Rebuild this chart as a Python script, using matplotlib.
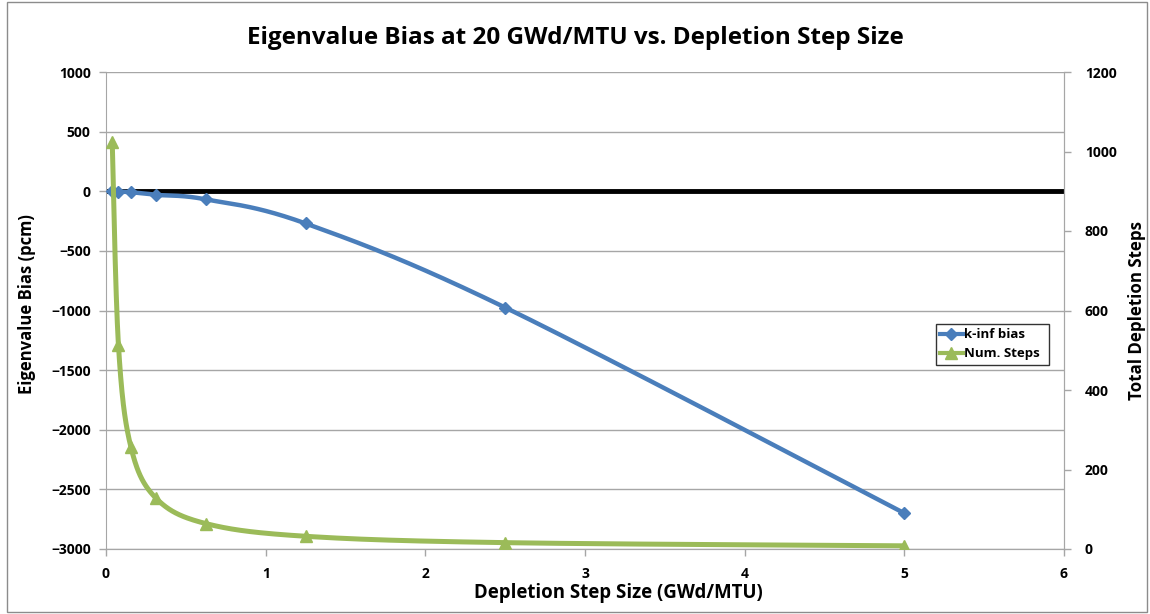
import numpy as np
import matplotlib
matplotlib.use("Agg")
import matplotlib.pyplot as plt
from matplotlib import font_manager
from matplotlib.patches import Rectangle

# depletion step size (GWd/MTU)
step_size = [0.0390625, 0.078125, 0.15625, 0.3125, 0.625, 1.25, 2.5, 5.0]
# k-inf bias (pcm)
kinf_bias = [0, -3, -8, -30, -68, -270, -975, -2700]
# total number of depletion steps
num_steps = [1024, 512, 256, 128, 64, 32, 16, 8]

BLUE = '#4a7ebb'
GREEN = '#9bbb59'
GRID = '#a6a6a6'


def fp(size):
    return font_manager.FontProperties(family=['Open Sans', 'DejaVu Sans'],
                                       weight='bold', size=size)


def smooth(ax, xs, ys, n=40):
    # excel-like smoothed line: bezier segments built in display space
    tr = ax.transData
    pts = tr.transform(np.column_stack([xs, ys]))
    out = [pts[0]]
    for i in range(len(pts) - 1):
        p0 = pts[i - 1] if i > 0 else pts[i]
        p1 = pts[i]
        p2 = pts[i + 1]
        p3 = pts[i + 2] if i + 2 < len(pts) else pts[i + 1]
        c1 = p1 + (p2 - p0) / 6.0
        c2 = p2 - (p3 - p1) / 6.0
        t = np.linspace(0, 1, n)[1:, None]
        seg = ((1 - t) ** 3) * p1 + 3 * ((1 - t) ** 2) * t * c1 \
            + 3 * (1 - t) * t ** 2 * c2 + t ** 3 * p2
        out.extend(seg)
    out = tr.inverted().transform(np.array(out))
    return out[:, 0], out[:, 1]


fig = plt.figure(figsize=(11.5, 6.14), dpi=100)
ax = fig.add_axes([106 / 1150, 1 - 549 / 614, (1064 - 106) / 1150, (549 - 72) / 614])
ax2 = ax.twinx()

ax.set_xlim(0, 6)
ax.set_ylim(-3000, 1000)
ax2.set_ylim(0, 1200)

ax.set_yticks(np.arange(-3000, 1001, 500))
ax.set_xticks(range(7))
ax2.set_yticks(range(0, 1201, 200))
ax.grid(axis='y', color=GRID, lw=1)
ax.set_axisbelow(True)

for a in (ax, ax2):
    for s in a.spines.values():
        s.set_color(GRID)
    a.spines['top'].set_visible(False)
    a.tick_params(colors=GRID, labelcolor='black', length=5, width=1)
ax2.spines['left'].set_visible(False)
for lab in ax.get_xticklabels() + ax.get_yticklabels() + ax2.get_yticklabels():
    lab.set_fontproperties(fp(10))
ax.tick_params(axis='x', pad=8)
ax.tick_params(axis='y', pad=6)
ax2.tick_params(axis='y', pad=10)

ax.axhline(0, color='black', lw=3.5, zorder=2)

fig.canvas.draw()
bx, by = smooth(ax, step_size, kinf_bias)
gx, gy = smooth(ax2, step_size, num_steps)

ax.plot(bx, by, color=BLUE, lw=3.2, zorder=3, solid_capstyle='round')
ax.plot(step_size, kinf_bias, ls='none', marker='D', ms=6, color=BLUE, zorder=4)
ax2.plot(gx, gy, color=GREEN, lw=3.6, zorder=3, solid_capstyle='round')
ax2.plot(step_size, num_steps, ls='none', marker='^', ms=9, color=GREEN, zorder=4)

# legend handles combine line and marker
h1, = ax.plot([], [], color=BLUE, lw=3, marker='D', ms=6)
h2, = ax.plot([], [], color=GREEN, lw=3, marker='^', ms=8)
leg = ax2.legend([h1, h2], ['k-inf bias', 'Num. Steps'], loc='lower left',
                 bbox_to_anchor=(0.866, 0.386, 0.118, 0.11), mode='expand',
                 frameon=True, fancybox=False, prop=fp(9.5), handlelength=1.7,
                 handletextpad=0.1, borderpad=0.35, borderaxespad=0,
                 labelspacing=0.45)
leg.get_frame().set_edgecolor('black')
leg.get_frame().set_linewidth(1)

ax.set_xlabel('Depletion Step Size (GWd/MTU)', fontproperties=fp(13.4))
ax.xaxis.set_label_coords((618 - 106) / 958, (549 - 593) / 477)
ax.xaxis.label.set_va('center')
ax.set_ylabel('Eigenvalue Bias (pcm)', fontproperties=fp(12))
ax.yaxis.set_label_coords((27 - 106) / 958, (549 - 304) / 477)
ax.yaxis.label.set_va('center')
ax2.set_ylabel('Total Depletion Steps', fontproperties=fp(12.2), labelpad=8)
fig.text(0.5, 1 - 38 / 614, 'Eigenvalue Bias at 20 GWd/MTU vs. Depletion Step Size',
         ha='center', va='center', fontproperties=fp(17.5))

# outer chart border
fig.patches.append(Rectangle((7 / 1150, 2 / 614), 1 - 10 / 1150, 1 - 4 / 614,
                             transform=fig.transFigure, fill=False,
                             edgecolor='#8c8c8c', lw=1))

fig.savefig('out.png', dpi=100)
